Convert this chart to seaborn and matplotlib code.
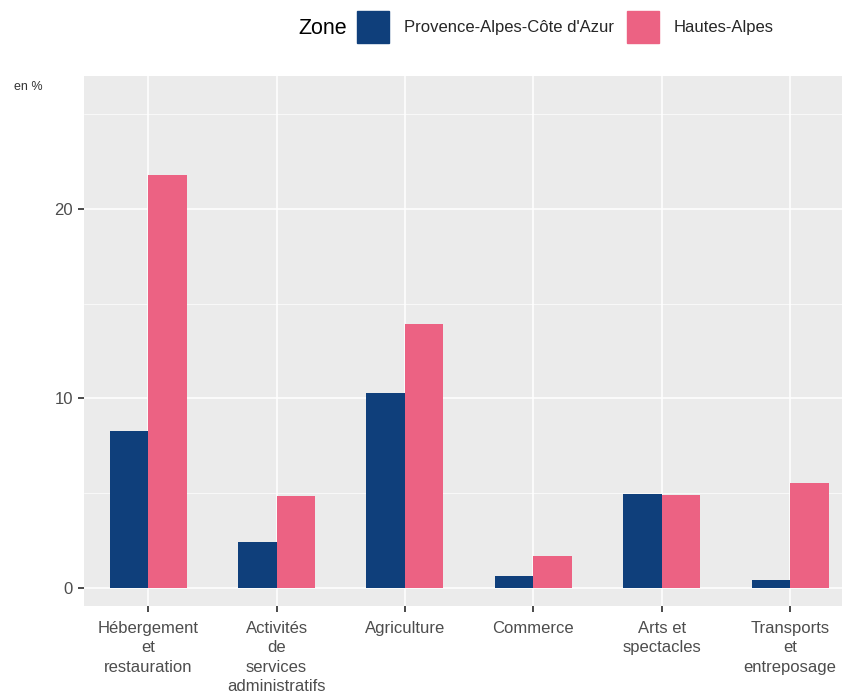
import pandas as pd
import seaborn as sns
import matplotlib.pyplot as plt
from matplotlib.patches import Patch
from matplotlib.ticker import MultipleLocator

sns.set_theme(style="darkgrid", rc={
    "axes.facecolor": "#EBEBEB",
    "grid.color": "white",
    "axes.edgecolor": "#EBEBEB",
})
plt.rcParams['font.family'] = ['Liberation Sans', 'DejaVu Sans']

CATEGORIES = ["Hébergement\net\nrestauration", "Activités\nde\nservices\nadministratifs",
              "Agriculture", "Commerce", "Arts et\nspectacles", "Transports\net\nentreposage"]
ZONES = ["Provence-Alpes-Côte d'Azur", "Hautes-Alpes"]
PACA_VALUES = [8.3, 2.4, 10.3, 0.65, 4.95, 0.42]
HA_VALUES = [21.8, 4.85, 13.9, 1.7, 4.9, 5.55]
ZONE_COLORS = {"Provence-Alpes-Côte d'Azur": "#0F3F7B", "Hautes-Alpes": "#EC6283"}

df = pd.DataFrame({
    "secteur": CATEGORIES * 2,
    "zone": [ZONES[0]] * len(CATEGORIES) + [ZONES[1]] * len(CATEGORIES),
    "valeur": PACA_VALUES + HA_VALUES,
})

fig = plt.figure(figsize=(8.42, 6.96), dpi=100)
ax = fig.add_axes([84 / 842, 90 / 696, 758 / 842, 530 / 696])
sns.barplot(data=df, x="secteur", y="valeur", hue="zone", palette=ZONE_COLORS,
            width=0.6, saturation=1, edgecolor="none", legend=False, ax=ax)

ax.set_xlim(-0.5, 5.405)
ax.set_ylim(-0.95, 27.0)
ax.yaxis.set_major_locator(MultipleLocator(10))
ax.yaxis.set_minor_locator(MultipleLocator(5))
ax.grid(which="major", color="white", linewidth=1.1)
ax.grid(which="minor", color="white", linewidth=0.5)
ax.set_axisbelow(True)
ax.tick_params(axis="both", which="major", length=4, color="#333333",
               labelsize=12, labelcolor="#4D4D4D", pad=4)
ax.tick_params(axis="both", which="minor", length=0)
ax.tick_params(axis="x", bottom=True, pad=7)
ax.tick_params(axis="y", left=True)
for lab in ax.get_xticklabels():
    lab.set_linespacing(1.35)
ax.set_xlabel("")
ax.set_ylabel("")
for spine in ax.spines.values():
    spine.set_visible(False)

fig.text(14 / 842, 1 - 87 / 696, "en %", fontsize=9, color="#333333", va="center")

fig.text(298 / 842, 1 - 28 / 696, "Zone", fontsize=15.5, color="black", va="center")
handles = [Patch(color=ZONE_COLORS[z], label=z) for z in ZONES]
fig.legend(handles=handles, loc="center left", bbox_to_anchor=(342 / 842, 1 - 27 / 696),
           ncol=2, frameon=False, fontsize=12, handlelength=1.9, handleheight=2.6,
           handletextpad=0.9, columnspacing=0.8)

fig.savefig("out.png", dpi=100, facecolor="white")
